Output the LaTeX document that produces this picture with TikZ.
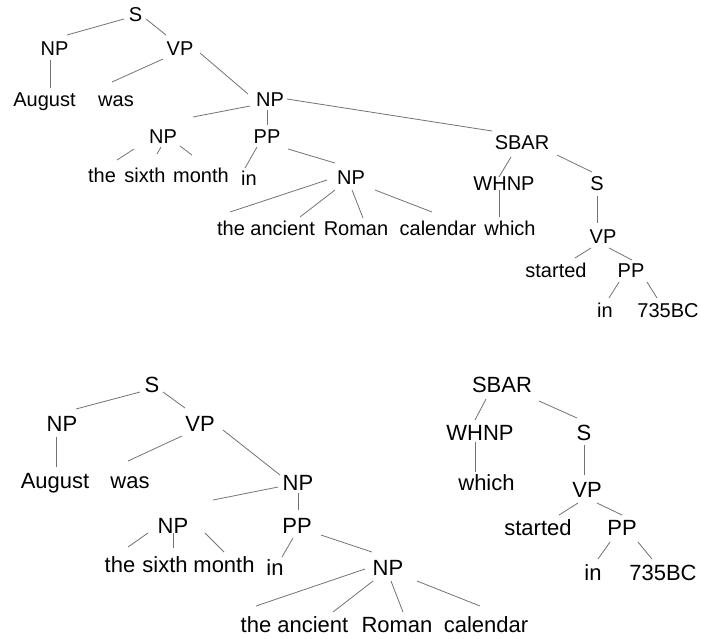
\documentclass[tikz,border=0pt]{standalone}
\usepackage{fontspec}
\setmainfont{Liberation Sans}
\newcommand\lnk[4]{\draw[edge] ([shift={(#2)}]#1.base) -- ([shift={(#4)}]#3.base);}
\begin{document}
\begin{tikzpicture}[x=1pt,y=-1pt,
  tw/.style={inner sep=0pt,anchor=base,font=\fontsize{20}{24}\selectfont},
  bw/.style={inner sep=0pt,anchor=base,font=\fontsize{22}{26}\selectfont},
  edge/.style={draw=black!55,line width=0.8pt}]
\useasboundingbox[fill=white] (0,0) rectangle (701,638);
% ---------- top tree ----------
\node[tw] (tS) at (135.5,21) {S};
\node[tw] (tNPa) at (54.5,55) {NP};
\node[tw] (tVP) at (180,55) {VP};
\node[tw] (tAug) at (44.5,106) {August};
\node[tw] (tWas) at (116,106) {was};
\node[tw] (tNPb) at (270,106) {NP};
\node[tw] (tNPc) at (163,143) {NP};
\node[tw] (tPP) at (267,143) {PP};
\node[tw] (tThe) at (102,182) {the};
\node[tw] (tSixth) at (145,182) {sixth};
\node[tw] (tMonth) at (201,182) {month};
\node[tw] (tIn) at (249,185) {in};
\node[tw] (tNPd) at (351,184) {NP};
\node[tw] (tAnc) at (266,235) {the ancient};
\node[tw] (tRom) at (356,235) {Roman};
\node[tw] (tCal) at (438,235) {calendar};
\node[tw] (tWhich) at (510,235) {which};
\node[tw] (tSBAR) at (522,149) {SBAR};
\node[tw] (tWHNP) at (504,190) {WHNP};
\node[tw] (tSb) at (597,190) {S};
\node[tw] (tVPb) at (603,243) {VP};
\node[tw] (tStarted) at (556,277) {started};
\node[tw] (tPPb) at (631,277) {PP};
\node[tw] (tInb) at (605,317) {in};
\node[tw] (tBC) at (668,317) {735BC};
\lnk{tS}{-11.5,-2}{tNPa}{12.5,-20}
\lnk{tS}{10.5,-2}{tVP}{-14,-20}
\lnk{tNPa}{-4.5,5}{tAug}{5.5,-18}
\lnk{tVP}{-17,4}{tWas}{-4,-24}
\lnk{tVP}{20,-2}{tNPb}{-22,-12}
\lnk{tNPb}{-20,0}{tNPc}{30,-26}
\lnk{tNPb}{-3,4}{tPP}{0,-18}
\lnk{tNPb}{17,-7}{tSBAR}{-30,-18}
\lnk{tNPc}{-29,6}{tThe}{15,-22}
\lnk{tNPc}{-2,4}{tSixth}{12,-28}
\lnk{tNPc}{17,3}{tMonth}{-9,-27}
\lnk{tPP}{-10,4}{tIn}{-4,-17}
\lnk{tPP}{21,6}{tNPd}{-16,-21}
\lnk{tNPd}{-24,-4}{tAnc}{-36,-23}
\lnk{tNPd}{-16,6}{tAnc}{34,-18}
\lnk{tNPd}{1,6}{tRom}{7,-17}
\lnk{tNPd}{24,6}{tCal}{-6,-23}
\lnk{tSBAR}{-11,8}{tWHNP}{-5,-13}
\lnk{tSBAR}{35,6}{tSb}{-5,-18}
\lnk{tWHNP}{-5,0}{tWhich}{-11,-18}
\lnk{tSb}{0,6}{tVPb}{-6,-20}
\lnk{tVPb}{-12,5}{tStarted}{19,-19}
\lnk{tVPb}{6,5}{tPPb}{1,-17}
\lnk{tPPb}{-12,5}{tInb}{4,-19}
\lnk{tPPb}{16,5}{tBC}{-11,-19}
% ---------- bottom left tree ----------
\node[bw] (bS) at (152,392) {S};
\node[bw] (bNPa) at (62,431) {NP};
\node[bw] (bVP) at (200,431) {VP};
\node[bw] (bAug) at (55,488) {August};
\node[bw] (bWas) at (130,488) {was};
\node[bw] (bNPb) at (298,490) {NP};
\node[bw] (bNPc) at (173,533) {NP};
\node[bw] (bPP) at (297,533) {PP};
\node[bw] (bThe) at (120,572) {the};
\node[bw] (bSixth) at (165,572) {sixth};
\node[bw] (bMonth) at (224,572) {month};
\node[bw] (bIn) at (275,575) {in};
\node[bw] (bNPd) at (388,575) {NP};
\node[bw] (bAnc) at (294.5,632) {the ancient};
\node[bw] (bRom) at (397,632) {Roman};
\node[bw] (bCal) at (486,632) {calendar};
\lnk{bS}{-12,0}{bNPa}{14,-22}
\lnk{bS}{11,0}{bVP}{-15,-23}
\lnk{bNPa}{-6,6}{bAug}{1,-21}
\lnk{bVP}{-18,5}{bWas}{-2,-27}
\lnk{bVP}{23,-1}{bNPb}{-18,-15}
\lnk{bNPb}{-20,-3}{bNPc}{40,-33}
\lnk{bNPb}{0,3}{bPP}{1,-23}
\lnk{bNPc}{-25,0}{bThe}{8,-25}
\lnk{bNPc}{0,0}{bSixth}{8,-24}
\lnk{bNPc}{32,0}{bMonth}{0,-20}
\lnk{bPP}{-4,5}{bIn}{7,-18}
\lnk{bPP}{24,2}{bNPd}{-16,-23}
\lnk{bNPd}{-23,-6}{bAnc}{-38.5,-26}
\lnk{bNPd}{-15,6}{bAnc}{38.5,-20}
\lnk{bNPd}{3,6}{bRom}{6,-20}
\lnk{bNPd}{29,6}{bCal}{-6,-26}
% ---------- bottom right tree ----------
\node[bw] (bSBAR) at (502,392) {SBAR};
\node[bw] (bWHNP) at (480,440) {WHNP};
\node[bw] (bSb) at (584,440) {S};
\node[bw] (bWhich) at (486.5,490) {which};
\node[bw] (bVPb) at (587,497) {VP};
\node[bw] (bStarted) at (538,535) {started};
\node[bw] (bPPb) at (622,535) {PP};
\node[bw] (bInb) at (593,580) {in};
\node[bw] (bBC) at (663,580) {735BC};
\lnk{bSBAR}{-16,7}{bWHNP}{-5,-20}
\lnk{bSBAR}{37,9}{bSb}{-7,-22}
\lnk{bWHNP}{-5,2}{bWhich}{-11.5,-18}
\lnk{bSb}{0,5}{bVPb}{-3,-22}
\lnk{bVPb}{-9,6}{bStarted}{21,-20}
\lnk{bVPb}{10,6}{bPPb}{0,-20}
\lnk{bPPb}{-12,7}{bInb}{5,-21}
\lnk{bPPb}{16,7}{bBC}{-11,-21}
\end{tikzpicture}
\end{document}
